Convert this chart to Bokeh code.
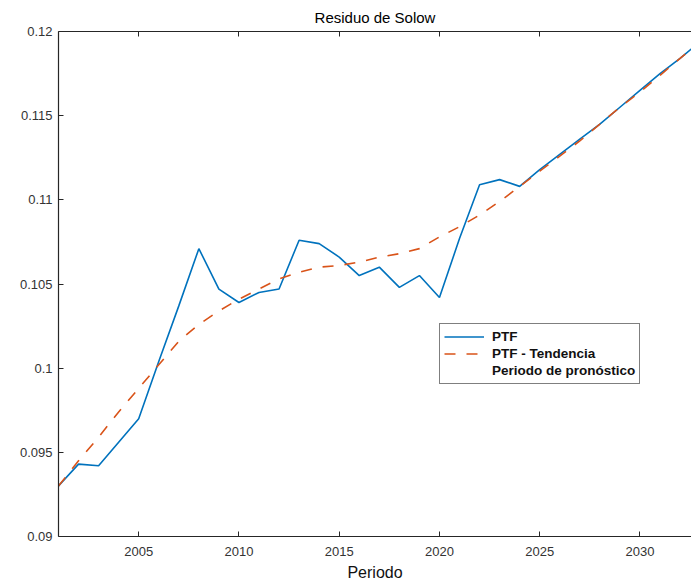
from bokeh.plotting import figure
from bokeh.models import ColumnDataSource, FixedTicker, LinearAxis, Range1d, Legend, LegendItem
from bokeh.embed import file_html
from bokeh.resources import INLINE

years = list(range(2001, 2034))
ptf = [0.0930, 0.0943, 0.0942, 0.0956, 0.0970, 0.1004, 0.1037, 0.1071, 0.1047, 0.1039,
       0.1045, 0.1047, 0.1076, 0.1074, 0.1066, 0.1055, 0.1060, 0.1048, 0.1055, 0.1042,
       0.1077, 0.1109, 0.1112, 0.1108, 0.1118, 0.1127, 0.1136, 0.1145, 0.1155, 0.1165,
       0.1175, 0.1184, 0.1194]
trend = [0.0930, 0.0945, 0.0959, 0.0974, 0.0988, 0.1002, 0.1016, 0.1026, 0.1034, 0.1041,
         0.1047, 0.1053, 0.1057, 0.1060, 0.1061, 0.1063, 0.1066, 0.1068, 0.1071, 0.1078,
         0.1084, 0.1091, 0.1099, 0.1108, 0.1117, 0.1126, 0.1135, 0.1145, 0.1155, 0.1164,
         0.1174, 0.1184, 0.1194]
x_ticks = [2005, 2010, 2015, 2020, 2025, 2030]
y_ticks = [0.09, 0.095, 0.1, 0.105, 0.11, 0.115, 0.12]
y_tick_labels = ["0.09", "0.095", "0.1", "0.105", "0.11", "0.115", "0.12"]

src = ColumnDataSource(dict(year=years, ptf=ptf, trend=trend))

AX = "#262626"
FONT = "Liberation Sans"

p = figure(width=691, height=586, output_backend="svg", toolbar_location=None,
           x_range=Range1d(2001, 2032.57), y_range=Range1d(0.09, 0.12),
           min_border_left=58, min_border_right=0, min_border_top=30, min_border_bottom=50)
p.outline_line_color = None
p.grid.visible = False
p.background_fill_color = "white"
p.border_fill_color = "white"

p.title.text = "Residuo de Solow"
p.title.align = "center"
p.title.text_font = FONT
p.title.text_font_size = "15px"
p.title.text_font_style = "normal"
p.title.text_color = "#000000"
p.title.standoff = 12

bottom = p.below[0]
left = p.left[0]
top = LinearAxis()
p.add_layout(top, "above")

bottom.ticker = FixedTicker(ticks=x_ticks)
top.ticker = FixedTicker(ticks=x_ticks)
for ax in (bottom, left, top):
    ax.axis_line_color = AX
    ax.axis_line_width = 1.2
    ax.major_tick_line_color = AX
    ax.major_tick_in = 5
    ax.major_tick_out = 0
    ax.minor_tick_line_color = None
    ax.major_label_text_font = FONT
    ax.major_label_text_font_size = "13px"
    ax.major_label_text_color = "#333333"

top.major_label_overrides = {t: "" for t in x_ticks}
top.major_label_text_font_size = "1px"
top.major_label_standoff = 0

left.ticker = FixedTicker(ticks=y_ticks)
left.major_label_overrides = {t: l for t, l in zip(y_ticks, y_tick_labels)}
left.major_label_standoff = 6

bottom.major_label_standoff = 10
bottom.axis_label = "Periodo"
bottom.axis_label_text_font = FONT
bottom.axis_label_text_font_size = "16px"
bottom.axis_label_text_font_style = "normal"
bottom.axis_label_text_color = "#111111"
bottom.axis_label_standoff = 5

r_ptf = p.line("year", "ptf", source=src, line_color="#0072BD", line_width=1.6)
r_tr = p.line("year", "trend", source=src, line_color="#D95319", line_width=1.6,
              line_dash="11 11")
r_fc = p.line("year", "trend", source=src, line_color=None, line_alpha=0)

legend = Legend(items=[LegendItem(label="PTF", renderers=[r_ptf]),
                       LegendItem(label="PTF - Tendencia", renderers=[r_tr]),
                       LegendItem(label="Periodo de pronóstico", renderers=[r_fc])],
                location=(381, 152), margin=0, padding=4, spacing=0,
                glyph_width=40, glyph_height=17, label_height=17, label_standoff=8,
                border_line_color="black", border_line_width=1,
                background_fill_color="white", background_fill_alpha=1,
                label_text_font=FONT, label_text_font_size="13.5px",
                label_text_font_style="bold", label_text_color="#111111")
p.add_layout(legend, "center")

open("out.html", "w").write(file_html(p, INLINE))
